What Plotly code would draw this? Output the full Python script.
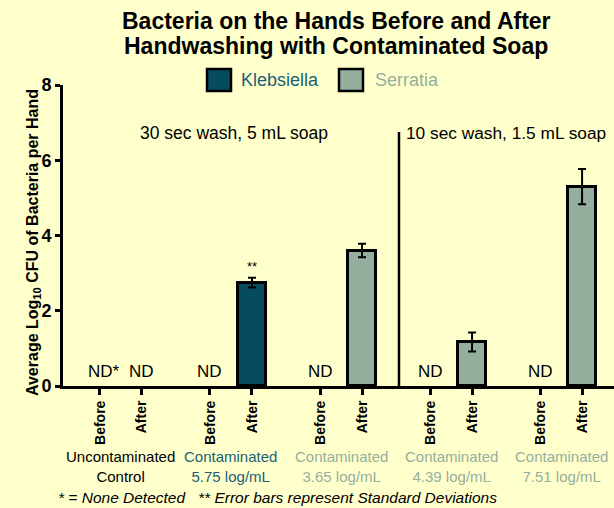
import plotly.graph_objects as go

# ---- data ----
group_labels = ["Uncontaminated<br>Control", "Contaminated<br>5.75 log/mL",
                "Contaminated<br>3.65 log/mL", "Contaminated<br>4.39 log/mL",
                "Contaminated<br>7.51 log/mL"]
organism = [None, "Klebsiella", "Serratia", "Serratia", "Serratia"]
before_vals = [None, None, None, None, None]          # None = not detected
after_vals = [None, 2.75, 3.60, 1.17, 5.30]
after_sd = [None, 0.13, 0.18, 0.25, 0.47]
tick_text = ["Before", "After"]
conditions = ["30 sec wash, 5 mL soap", "10 sec wash, 1.5 mL soap"]
legend_names = ["Klebsiella", "Serratia"]
title_lines = ["Bacteria on the Hands Before and After", "Handwashing with Contaminated Soap"]

# ---- style ----
BG = "#FFFFCC"
COLORS = {"Klebsiella": "#064B5E", "Serratia": "#95AF9E"}
LABEL_COLORS = {"Klebsiella": "#1B5F74", "Serratia": "#95AF9E", None: "#000000"}
FONT = "Liberation Sans, Arial, Helvetica, sans-serif"
STEP = 2.62   # distance between group starts (in bar units)
W, H = 614, 508
ML, MT, MB = 63, 85, 122
PW, PH = W - ML, H - MT - MB


def px(x):   # pixel -> paper x
    return (x - ML) / PW


def py(y):   # pixel -> paper y
    return (H - MB - y) / PH


before_x = [g * STEP for g in range(len(group_labels))]
after_x = [g * STEP + 1 for g in range(len(group_labels))]

fig = go.Figure()
for org in legend_names:
    xs, ys, es = [], [], []
    for i, o in enumerate(organism):
        if o == org and after_vals[i] is not None:
            xs.append(after_x[i]); ys.append(after_vals[i]); es.append(after_sd[i])
    fig.add_trace(go.Bar(
        x=xs, y=ys, width=0.66, name=org, showlegend=False,
        marker=dict(color=COLORS[org], line=dict(color="black", width=3)),
        error_y=dict(type="data", array=es, color="black", thickness=2, width=4),
    ))

# legend (drawn manually for large swatches)
legend_pos = [(207, 239), (339, 373)]
for org, (bx, tx) in zip(legend_names, legend_pos):
    fig.add_shape(type="rect", xref="paper", yref="paper",
                  x0=px(bx), x1=px(bx + 24), y0=py(91), y1=py(69),
                  fillcolor=COLORS[org], line=dict(color="black", width=2.5))
    fig.add_annotation(xref="paper", yref="paper", x=px(tx), y=py(80),
                       xanchor="left", yanchor="middle", text=org, showarrow=False,
                       font=dict(size=18, color=LABEL_COLORS[org], family=FONT))

# ND labels
for i in range(len(group_labels)):
    if before_vals[i] is None:
        fig.add_annotation(x=before_x[i], y=0, yanchor="bottom", yshift=3,
                           text="ND*" if i == 0 else "ND", showarrow=False,
                           xshift=4 if i == 0 else 0,
                           font=dict(size=17, color="black", family=FONT))
    if after_vals[i] is None:
        fig.add_annotation(x=after_x[i], y=0, yanchor="bottom", yshift=3,
                           text="ND", showarrow=False,
                           font=dict(size=17, color="black", family=FONT))

# ** above Klebsiella bar
fig.add_annotation(x=after_x[1], y=after_vals[1] + after_sd[1], yanchor="bottom",
                   yshift=2, text="**", showarrow=False,
                   font=dict(size=13, color="black", family=FONT))

# group labels under axis
for i, lab in enumerate(group_labels):
    fig.add_annotation(x=(before_x[i] + after_x[i]) / 2, y=0, yref="paper",
                       yshift=-60, yanchor="top", text=lab, showarrow=False,
                       font=dict(size=15, color=LABEL_COLORS[organism[i]], family=FONT))

# condition labels and separator
sep_x = (after_x[2] + before_x[3]) / 2 + 0.07
fig.add_shape(type="line", x0=sep_x, x1=sep_x, y0=0, y1=6.75,
              line=dict(color="black", width=2.5))
fig.add_annotation(x=(before_x[1] + after_x[1]) / 2 + 0.07, y=6.73, text=conditions[0],
                   showarrow=False, font=dict(size=17.5, color="black", family=FONT))
fig.add_annotation(x=sep_x, xshift=5, y=6.73, xanchor="left", text=conditions[1],
                   showarrow=False, font=dict(size=17.3, color="black", family=FONT))

# title (two lines)
for line, yc in zip(title_lines, [21, 46]):
    fig.add_annotation(x=px(336), xref="paper", xanchor="center", y=py(yc), yref="paper",
                       yanchor="middle", showarrow=False, text=f"<b>{line}</b>",
                       font=dict(size=23, color="black", family=FONT))

# y-axis title
fig.add_annotation(x=px(33), xref="paper", y=py(243), yref="paper", textangle=-90,
                   xanchor="center", yanchor="middle", showarrow=False,
                   text="<b>Average Log<sub>10</sub> CFU of Bacteria per Hand</b>",
                   font=dict(size=16, color="black", family=FONT))

# footnote
fig.add_annotation(x=px(56), xref="paper", xanchor="left", y=py(497), yref="paper",
                   yanchor="middle",
                   text="<i>* = None Detected   ** Error bars represent Standard Deviations</i>",
                   showarrow=False, font=dict(size=15.5, color="black", family=FONT))

fig.update_layout(
    width=W, height=H,
    paper_bgcolor=BG, plot_bgcolor=BG,
    margin=dict(l=ML, r=0, t=MT, b=MB),
    font=dict(family=FONT, color="black"),
    showlegend=False,
    bargap=0,
    xaxis=dict(range=[-0.88, 12.24], tickvals=before_x + after_x,
               ticktext=[tick_text[0]] * 5 + [tick_text[1]] * 5,
               tickangle=-90, showgrid=False, zeroline=False,
               showline=True, linecolor="black", linewidth=3,
               ticks="outside", ticklen=6, tickwidth=2.5, tickcolor="black",
               tickfont=dict(size=14, weight="bold", color="black", family=FONT)),
    yaxis=dict(range=[0, 8], tickvals=[0, 2, 4, 6, 8], showgrid=False,
               zeroline=False, showline=True, linecolor="black", linewidth=3,
               ticks="outside", ticklen=5, tickwidth=3, tickcolor="black",
               tickfont=dict(size=18, weight="bold", color="black", family=FONT)),
)

fig.write_html("out.html", config={"displayModeBar": False},
               post_script="document.body.style.margin='0';document.body.style.background='%s';" % BG)
